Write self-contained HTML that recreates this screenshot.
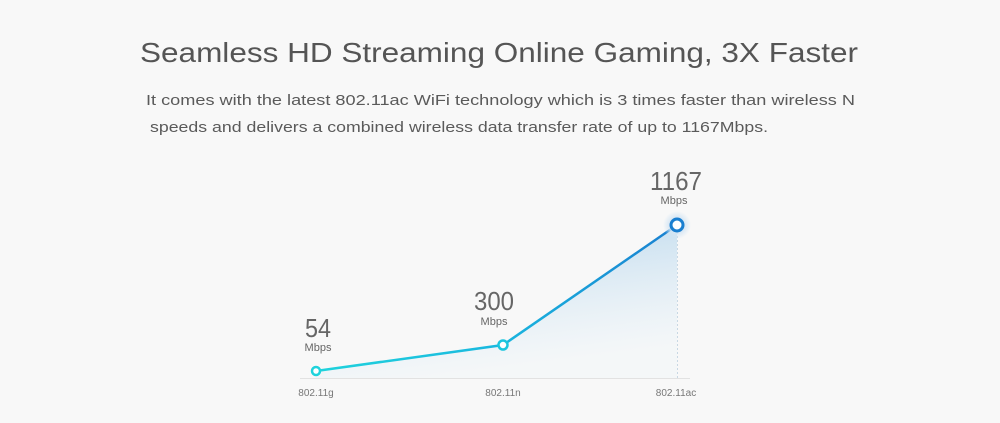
<!DOCTYPE html>
<html><head><meta charset="utf-8"><style>
html,body{margin:0;padding:0;background:#f8f8f8;}
svg{display:block;font-family:"Liberation Sans",sans-serif;}
</style></head><body>
<svg width="1000" height="423" viewBox="0 0 1000 423">
<defs>
<linearGradient id="g" x1="0" y1="0" x2="0.3" y2="1">
<stop offset="0" stop-color="#a9cfea" stop-opacity="0.9"/>
<stop offset="1" stop-color="#eef5f9" stop-opacity="0.4"/>
</linearGradient>
<linearGradient id="ln" x1="0" y1="0" x2="1" y2="0">
<stop offset="0" stop-color="#1fd3dc"/>
<stop offset="0.5" stop-color="#1ab8df"/>
<stop offset="1" stop-color="#1a7fd0"/>
</linearGradient>
<radialGradient id="halo"><stop offset="0.5" stop-color="#d6e6f4"/><stop offset="1" stop-color="#d6e6f4" stop-opacity="0"/></radialGradient>
</defs>
<rect width="1000" height="423" fill="#f8f8f8"/>
<text x="140" y="62" font-size="28" fill="#555" textLength="718" lengthAdjust="spacingAndGlyphs">Seamless HD Streaming Online Gaming, 3X Faster</text>
<text x="146" y="105" font-size="15" fill="#5a5a5a" textLength="709" lengthAdjust="spacingAndGlyphs">It comes with the latest 802.11ac WiFi technology which is 3 times faster than wireless N</text>
<text x="150" y="132" font-size="15" fill="#5a5a5a" textLength="618" lengthAdjust="spacingAndGlyphs">speeds and delivers a combined wireless data transfer rate of up to 1167Mbps.</text>
<polygon points="316,371 503,345 677,225 677,378 316,378" fill="url(#g)"/>
<line x1="300" y1="378.5" x2="690" y2="378.5" stroke="#e2e2e2"/>
<line x1="677.5" y1="232" x2="677.5" y2="378" stroke="#c8d8e4" stroke-dasharray="2,2"/>
<polyline points="316,371 503,345 677,225" fill="none" stroke="url(#ln)" stroke-width="2.5"/>
<circle cx="677" cy="225" r="14" fill="url(#halo)"/>
<circle cx="316" cy="371" r="4" fill="#fff" stroke="#1fd3dc" stroke-width="2.5"/>
<circle cx="503" cy="345" r="4.5" fill="#fff" stroke="#1cc6de" stroke-width="2.5"/>
<circle cx="677" cy="225" r="6" fill="#fff" stroke="#1a7fd0" stroke-width="3"/>
<g fill="#666" text-anchor="middle">
<text x="318" y="337" font-size="26" textLength="26" lengthAdjust="spacingAndGlyphs">54</text>
<text x="318" y="351" font-size="11">Mbps</text>
<text x="494" y="310" font-size="26" textLength="40" lengthAdjust="spacingAndGlyphs">300</text>
<text x="494" y="325" font-size="11">Mbps</text>
<text x="676" y="190" font-size="26" textLength="52" lengthAdjust="spacingAndGlyphs">1167</text>
<text x="674" y="204" font-size="11">Mbps</text>
</g>
<g fill="#777" font-size="10" text-anchor="middle">
<text x="316" y="396">802.11g</text>
<text x="503" y="396">802.11n</text>
<text x="676" y="396">802.11ac</text>
</g>
</svg>
</body></html>
